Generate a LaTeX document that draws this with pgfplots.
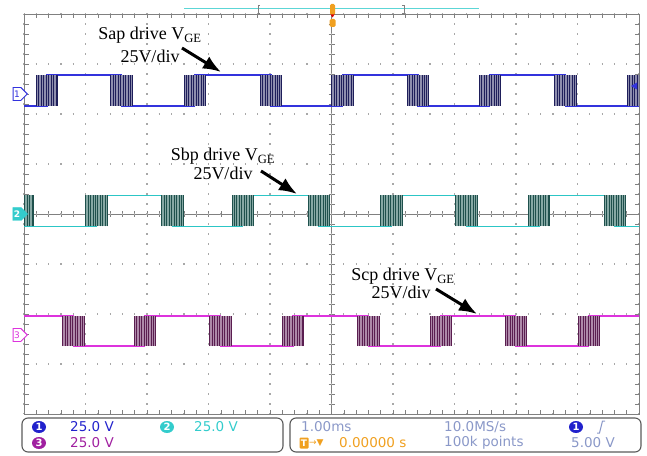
\documentclass[border=0pt]{standalone}
\usepackage{pgfplots}
\pgfplotsset{compat=1.18}
\usepackage{pgfplotstable}
\usepackage{fontspec}
\setmainfont{Liberation Serif}
\newfontfamily\scopefont{DejaVu Sans}
\usetikzlibrary{arrows.meta,shapes.geometric,shapes.symbols}

\definecolor{scopeA}{HTML}{3333DD}
\definecolor{scopeAdark}{HTML}{1E1E5A}
\definecolor{scopeAfill}{HTML}{8E8EAE}
\definecolor{scopeB}{HTML}{2CC6C6}
\definecolor{scopeBdark}{HTML}{1E504C}
\definecolor{scopeBfill}{HTML}{86A8A4}
\definecolor{scopeC}{HTML}{DD33DD}
\definecolor{scopeCdark}{HTML}{5A1E50}
\definecolor{scopeCfill}{HTML}{AE8AAA}
\definecolor{gridgray}{HTML}{A8A8A8}
\definecolor{framegray}{HTML}{808080}
\definecolor{trigorange}{HTML}{F0A020}
\definecolor{infoblue}{HTML}{8A98C8}
\definecolor{labelA}{HTML}{2222CC}
\definecolor{labelB}{HTML}{33CCCC}
\definecolor{labelC}{HTML}{A020A0}

% switching bursts: start time (ms) and gate level after the burst (1 = on)
\pgfplotstableread{
s     lev
-6.00 0
-4.80 1
-3.59 0
-2.40 1
-1.16 0
0.00  1
1.23  0
2.40  1
3.63  0
4.81  1
}\chA
\pgfplotstableread{
s     lev
-5.19 0
-4.00 1
-2.76 0
-1.62 1
-0.38 0
0.80  1
2.02  0
3.20  1
4.43  0
5.60  0
}\chB
\pgfplotstableread{
s     lev
-6.00 1
-4.37 0
-3.21 1
-1.98 0
-0.80 1
0.42  0
1.60  1
2.82  0
4.01  1
5.60  1
}\chC

\pgfplotsset{
  scopescreen/.style={
    scale only axis, width=615pt, height=400pt,
    at={(24pt,41pt)}, anchor=south west,
    xmin=-5, xmax=5, ymin=-4, ymax=4,
    xtick={-5,...,5}, ytick={-4,...,4}, minor tick num=4,
    xticklabel=\empty, yticklabel=\empty,
  },
}

\tikzset{callout/.style={line width=3pt, -{Latex[length=18pt,width=14pt]}}}

\begin{document}
\begin{tikzpicture}[x=1pt,y=1pt]
\path[use as bounding box] (0,0) rectangle (647,455);

% centre cross with its tick marks
\begin{axis}[scopescreen, axis lines=center,
  axis line style={-, framegray, line width=0.8pt},
  every inner x axis line/.append style={-},
  every inner y axis line/.append style={-},
  tick align=center, major tick length=6pt, minor tick length=6pt,
  tick style={framegray, line width=0.6pt}]
\addplot[draw=none] coordinates {(0,0)};
\end{axis}

% screen frame, dotted graticule and the three gate signals
\begin{axis}[scopescreen,
  axis line style={framegray, line width=0.9pt},
  tick align=inside, tick pos=both,
  major tick length=4.5pt, minor tick length=4.5pt,
  tick style={framegray, line width=0.6pt},
  xmajorgrids, ymajorgrids,
  x grid style={gridgray, line width=1.3pt, dash pattern=on 1.2pt off 8.8pt, dash phase=0.6pt},
  y grid style={gridgray, line width=1.3pt, dash pattern=on 1.2pt off 11.1pt, dash phase=0.6pt}]

% channel 1
\addplot[const plot, scopeA, line width=1.2pt, mark=none]
  table[x expr=\thisrow{s}+0.175, y expr=2.16+0.62*\thisrow{lev}] {\chA};
\addplot[quiver={u=0,v=0.62}, scopeAfill, line width=21.5pt, mark=none]
  table[x expr=\thisrow{s}+0.175, y expr=2.16] {\chA};
\pgfplotsinvokeforeach{0.00,0.04,0.08,0.12,0.16,0.20,0.24,0.28,0.32,0.35}{
  \addplot[quiver={u=0,v=0.62}, scopeAdark, line width=0.7pt, mark=none]
    table[x expr=\thisrow{s}+#1, y expr=2.16] {\chA};
}

% channel 2
\addplot[const plot, scopeB, line width=1.2pt, mark=none]
  table[x expr=\thisrow{s}+0.175, y expr=-0.25+0.62*\thisrow{lev}] {\chB};
\addplot[quiver={u=0,v=0.62}, scopeBfill, line width=21.5pt, mark=none]
  table[x expr=\thisrow{s}+0.175, y expr=-0.25] {\chB};
\pgfplotsinvokeforeach{0.00,0.04,0.08,0.12,0.16,0.20,0.24,0.28,0.32,0.35}{
  \addplot[quiver={u=0,v=0.62}, scopeBdark, line width=0.7pt, mark=none]
    table[x expr=\thisrow{s}+#1, y expr=-0.25] {\chB};
}

% channel 3
\addplot[const plot, scopeC, line width=1.2pt, mark=none]
  table[x expr=\thisrow{s}+0.175, y expr=-2.64+0.60*\thisrow{lev}] {\chC};
\addplot[quiver={u=0,v=0.60}, scopeCfill, line width=21.5pt, mark=none]
  table[x expr=\thisrow{s}+0.175, y expr=-2.64] {\chC};
\pgfplotsinvokeforeach{0.00,0.04,0.08,0.12,0.16,0.20,0.24,0.28,0.32,0.35}{
  \addplot[quiver={u=0,v=0.60}, scopeCdark, line width=0.7pt, mark=none]
    table[x expr=\thisrow{s}+#1, y expr=-2.64] {\chC};
}
\end{axis}

% channel markers on the left edge
\node[signal, signal to=east, draw=scopeA, fill=white, text=scopeA, line width=0.9pt,
  font=\scopefont\fontsize{9}{9}\selectfont, inner sep=1pt, minimum width=11pt, minimum height=13pt] at (17,361) {1};
\node[signal, signal to=east, draw=labelB, fill=labelB, text=white,
  font=\scopefont\bfseries\fontsize{9}{9}\selectfont, inner sep=1pt, minimum width=11pt, minimum height=13pt] at (17,241) {2};
\node[signal, signal to=east, draw=scopeC, fill=white, text=scopeC, line width=0.9pt,
  font=\scopefont\fontsize{9}{9}\selectfont, inner sep=1pt, minimum width=11pt, minimum height=13pt] at (17,120) {3};
% trigger level marker on the right edge
\fill[scopeA] (631,369) -- (637,372.5) -- (637,365.5) -- cycle;

% record position bar and trigger markers above the screen
\draw[labelB!80, line width=1pt] (184,446) -- (479,446);
\draw[framegray, line width=0.7pt] (260,442) -- (258,442) -- (258,450) -- (260,450);
\draw[framegray, line width=0.7pt] (402,442) -- (404,442) -- (404,450) -- (402,450);
\fill[trigorange, rounded corners=1.5pt] (330,440) rectangle (335,451);
\fill[red!85!black] (330.5,440.5) -- (334.5,440.5) -- (332.5,437.5) -- cycle;
\fill[trigorange, rounded corners=1.5pt] (329.5,428) rectangle (335.5,436);

% annotations
\begin{scope}[every node/.style={anchor=base, font=\fontsize{18}{20}\selectfont}]
\node at (150,415) {Sap drive V\textsubscript{GE}};
\node at (150,392) {25V/div};
\node at (223,294) {Sbp drive V\textsubscript{GE}};
\node at (223,275) {25V/div};
\node at (403,174) {Scp drive V\textsubscript{GE}};
\node at (401,156) {25V/div};
\end{scope}
\draw[callout] (182,407) -- (221,383);
\draw[callout] (261,284) -- (297,261);
\draw[callout] (436,166) -- (477,141);

% readout panels
\draw[framegray!70!black, line width=1.1pt, rounded corners=6pt] (22,3) rectangle (283,37);
\draw[framegray!70!black, line width=1.1pt, rounded corners=6pt] (290,3) rectangle (641,37);
\begin{scope}[every node/.style={font=\scopefont\fontsize{13.5}{14}\selectfont, inner sep=0pt}]
\node[ellipse, fill=labelA, text=white, minimum width=14pt, minimum height=12pt, font=\scopefont\bfseries\fontsize{10}{10}\selectfont] at (39,28) {1};
\node[anchor=west, text=labelA] at (70,28) {25.0 V};
\node[ellipse, fill=labelB, text=white, minimum width=14pt, minimum height=12pt, font=\scopefont\bfseries\fontsize{10}{10}\selectfont] at (167,28) {2};
\node[anchor=west, text=labelB] at (194,28) {25.0 V};
\node[ellipse, fill=labelC, text=white, minimum width=14pt, minimum height=12pt, font=\scopefont\bfseries\fontsize{10}{10}\selectfont] at (39,12) {3};
\node[anchor=west, text=labelC] at (70,12) {25.0 V};

\node[anchor=west, text=infoblue] at (301,28) {1.00ms};
\node[anchor=west, text=infoblue] at (444,28) {10.0MS/s};
\node[ellipse, fill=labelA, text=white, minimum width=14pt, minimum height=12pt, font=\scopefont\bfseries\fontsize{10}{10}\selectfont] at (576,28) {1};
\node[fill=trigorange, text=white, rounded corners=1pt, minimum width=9pt, minimum height=11pt, font=\scopefont\bfseries\fontsize{9}{9}\selectfont] at (304,12) {T};
\node[anchor=west, text=trigorange, font=\scopefont\fontsize{9}{9}\selectfont] at (309,12) {→▼};
\node[anchor=west, text=trigorange] at (339,12) {0.00000 s};
\node[anchor=west, text=infoblue] at (444,12) {100k points};
\node[anchor=west, text=infoblue] at (571,12) {5.00 V};
\end{scope}
\draw[infoblue, line width=1pt] (597,22) -- (599.5,22) -- (602.5,34) -- (605,34);
\end{tikzpicture}
\end{document}
